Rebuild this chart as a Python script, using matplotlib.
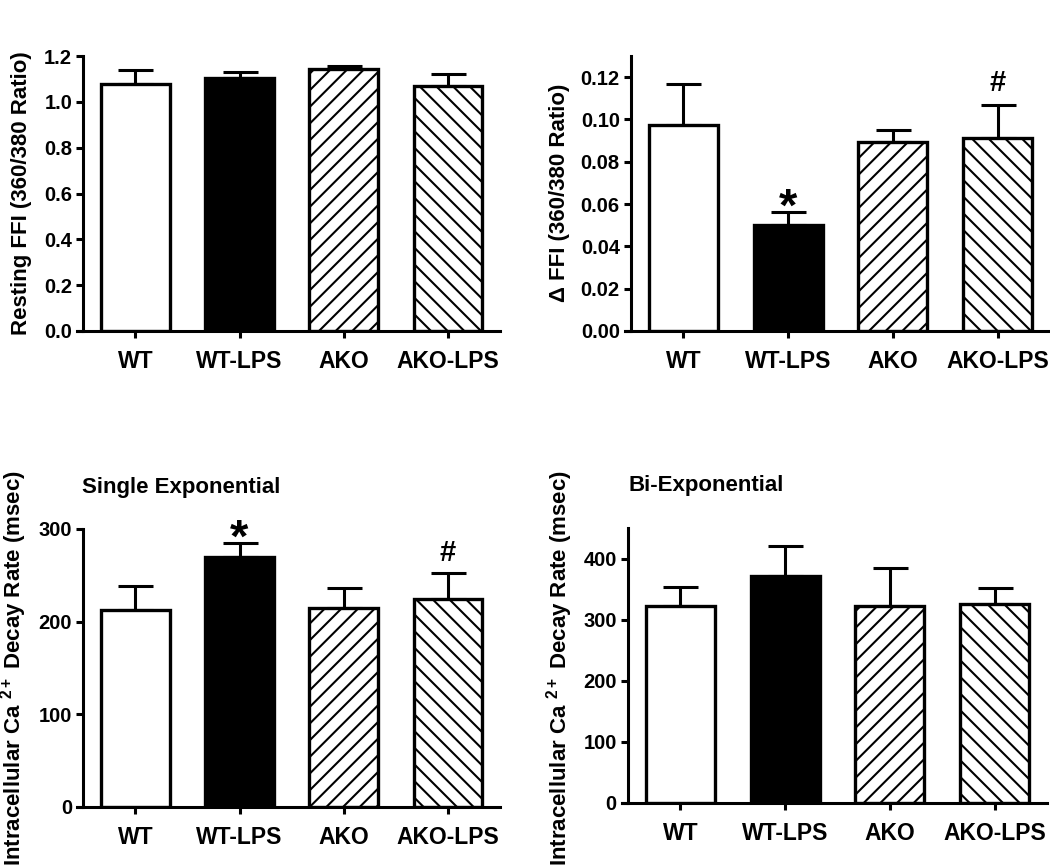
import matplotlib
matplotlib.use("Agg")
import matplotlib.pyplot as plt
import numpy as np

plt.rcParams['font.family'] = ['Liberation Sans', 'DejaVu Sans']
plt.rcParams['font.weight'] = 'bold'
plt.rcParams['mathtext.fontset'] = 'custom'
plt.rcParams['mathtext.rm'] = 'Liberation Sans:bold'
plt.rcParams['mathtext.bf'] = 'Liberation Sans:bold'
plt.rcParams['mathtext.it'] = 'Liberation Sans:bold'
plt.rcParams['hatch.linewidth'] = 1.5

categories = ["WT", "WT-LPS", "AKO", "AKO-LPS"]
fills = ["white", "black", "white", "white"]
hatches = [None, None, "//", "\\\\"]

resting_mean = [1.076, 1.105, 1.142, 1.068]
resting_err = [0.062, 0.027, 0.013, 0.053]

delta_mean = [0.0972, 0.0500, 0.0893, 0.0912]
delta_err = [0.0198, 0.0062, 0.0055, 0.0158]

single_mean = [213, 270, 215, 225]
single_err = [26, 15, 21, 27]

bi_mean = [322, 372, 322, 325]
bi_err = [32, 49, 62, 27]

W, H = 1050, 868
fig = plt.figure(figsize=(W / 100, H / 100), dpi=100)


def px_axes(x0, x1, ytop, ybot):
    return fig.add_axes([x0 / W, 1 - ybot / H, (x1 - x0) / W, (ybot - ytop) / H])


LW = 2.2


def draw_panel(ax, means, errs, ylim, yticks, fmt, xleft):
    x = np.arange(len(categories))
    ax.errorbar(x, means, yerr=[np.zeros(len(errs)), errs], fmt='none',
                ecolor='black', elinewidth=LW, capsize=12.6, capthick=LW, zorder=1)
    for xi, m, f, h in zip(x, means, fills, hatches):
        ax.bar(xi, m, width=0.66, color=f, edgecolor='black', linewidth=2.4,
               hatch=h, zorder=2)
    ax.set_xlim(xleft, 3.5)
    ax.set_ylim(*ylim)
    ax.spines['top'].set_visible(False)
    ax.spines['right'].set_visible(False)
    ax.spines['left'].set_position(('data', -0.5))
    ax.spines['left'].set_bounds(0, ylim[1])
    for s in ('left', 'bottom'):
        ax.spines[s].set_linewidth(LW)
    ax.set_xticks(x)
    ax.set_xticklabels(categories, fontsize=16.5, fontweight='bold')
    ax.set_yticks(yticks)
    ax.set_yticklabels([fmt.format(v) for v in yticks], fontsize=14.5, fontweight='bold')
    ax.tick_params(axis='x', length=5, width=LW, pad=9)
    ax.tick_params(axis='y', length=5, width=LW, pad=3)
    ax.patch.set_alpha(0)


# Top-left
ax1 = px_axes(77, 500, 56, 331)
draw_panel(ax1, resting_mean, resting_err, (0, 1.2),
           [0.0, 0.2, 0.4, 0.6, 0.8, 1.0, 1.2], "{:.1f}", -0.56)
fig.text(22 / W, 1 - 193 / H, "Resting FFI (360/380 Ratio)", rotation=90,
         ha='center', va='center', fontsize=16, fontweight='bold')

# Top-right
ax2 = px_axes(625, 1050, 56, 331)
draw_panel(ax2, delta_mean, delta_err, (0, 0.13),
           [0.00, 0.02, 0.04, 0.06, 0.08, 0.10, 0.12], "{:.2f}", -0.557)
fig.text(559 / W, 1 - 193 / H, "\u0394 FFI (360/380 Ratio)", rotation=90,
         ha='center', va='center', fontsize=16, fontweight='bold')

# Bottom-left
ax3 = px_axes(77, 500, 529, 807)
draw_panel(ax3, single_mean, single_err, (0, 300),
           [0, 100, 200, 300], "{:d}", -0.56)
fig.text(14 / W, 1 - 668 / H, r"Intracellular Ca $^{\mathrm{2+}}$ Decay Rate (msec)",
         rotation=90, ha='center', va='center', fontsize=16, fontweight='bold')
fig.text(82 / W, 1 - 487 / H, "Single Exponential", ha='left', va='center',
         fontsize=16, fontweight='bold')

# Bottom-right
ax4 = px_axes(622, 1047, 528, 803)
draw_panel(ax4, bi_mean, bi_err, (0, 450),
           [0, 100, 200, 300, 400], "{:d}", -0.557)
fig.text(560 / W, 1 - 668 / H, r"Intracellular Ca $^{\mathrm{2+}}$ Decay Rate (msec)",
         rotation=90, ha='center', va='center', fontsize=16, fontweight='bold')
fig.text(628 / W, 1 - 485 / H, "Bi-Exponential", ha='left', va='center',
         fontsize=16, fontweight='bold')


def mark(ax, idx, means, errs, sym, size, dy):
    ax.annotate(sym, (idx, means[idx] + errs[idx]), xytext=(0, dy),
                textcoords='offset points', ha='center', va='baseline',
                fontsize=size, fontweight='bold', annotation_clip=False)


mark(ax2, 1, delta_mean, delta_err, "*", 34, -6)
mark(ax2, 3, delta_mean, delta_err, "#", 21, 10)
mark(ax3, 1, single_mean, single_err, "*", 34, -6)
mark(ax3, 3, single_mean, single_err, "#", 21, 9)

fig.savefig("out.png", dpi=100)
